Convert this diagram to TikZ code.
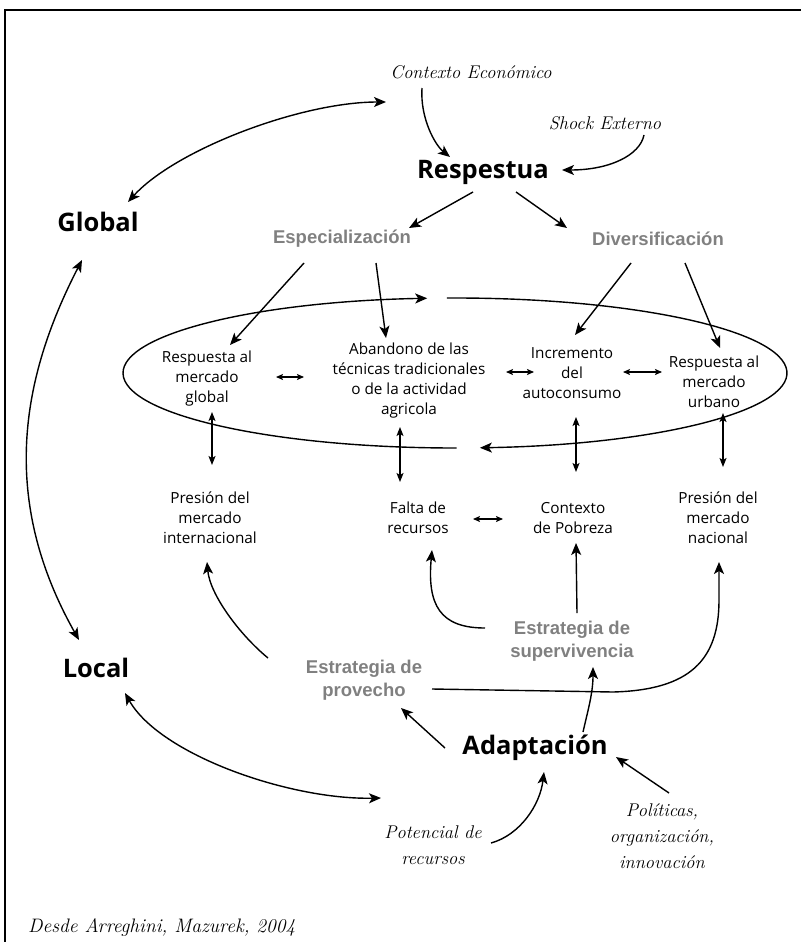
\documentclass[tikz,border=0pt]{standalone}
\usepackage{fontspec}
\usepackage{xcolor}
\usetikzlibrary{arrows.meta,calc}
\newfontfamily\comic{Open Sans}
\newfontfamily\narrow{Liberation Sans}
\definecolor{labgray}{RGB}{128,128,128}

\begin{document}
\begin{tikzpicture}[x = 1pt, y = -1pt,
  body/.style = {align = center, inner sep = 0pt, font = \comic\fontsize{15.3}{20}\selectfont},
  head/.style = {inner sep = 0pt, font = \comic\bfseries\fontsize{25.5}{28}\selectfont},
  strat/.style = {align = center, inner sep = 0pt, text = labgray, font = \narrow\bfseries\fontsize{18.5}{22.5}\selectfont},
  ctxt/.style = {align = center, inner sep = 0pt, font = \itshape\fontsize{18.4}{26}\selectfont},
  arr/.style = {-{Stealth[length = 12pt, width = 10pt, inset = 3pt]}, line width = 1.4pt},
  dbl/.style = {{Stealth[length = 12pt, width = 10pt, inset = 3pt]}-{Stealth[length = 12pt, width = 10pt, inset = 3pt]}, line width = 1.4pt},
  mid/.style = {{Stealth[length = 9pt, width = 7pt, inset = 2pt]}-{Stealth[length = 9pt, width = 7pt, inset = 2pt]}, line width = 1.1pt},
  sml/.style = {{Stealth[length = 7pt, width = 6pt, inset = 1.5pt]}-{Stealth[length = 7pt, width = 6pt, inset = 1.5pt]}, line width = 1.1pt}]
\useasboundingbox (0,0) rectangle (801,942);
\draw[line width = 2.5pt] (5,942) -- (5,10) -- (801,10);
\node[ctxt] (ctx) at (471,72) {Contexto Económico};
\node[ctxt] (shock) at (605,123) {Shock Externo};
\node[head] (resp) at (483,172) {Respestua};
\node[head] (glob) at (98,222) {Global};
\node[strat] (esp) at (342,239) {Especialización};
\node[strat] (div) at (658,239) {Diversificación};
\node[body] (rmg) at (207,379) {Respuesta al\\mercado\\global};
\node[body] (aban) at (409,381) {Abandono de las\\técnicas tradicionales\\o de la actividad\\agricola};
\node[body] (incr) at (572,373) {Incremento\\del\\autoconsumo};
\node[body] (rmu) at (714,382) {Respuesta al\\mercado\\urbano};
\node[body] (pmi) at (210,518) {Presión del\\mercado\\internacional};
\node[body] (falta) at (418,518) {Falta de\\recursos};
\node[body] (ctxp) at (573,518) {Contexto\\de Pobreza};
\node[body] (pmn) at (718,518) {Presión del\\mercado\\nacional};
\node[strat] (esup) at (572,641) {Estrategia de\\supervivencia};
\node[strat] (eprov) at (364,680) {Estrategia de\\provecho};
\node[head] (local) at (96,668) {Local};
\node[head] (adapt) at (535,748) {Adaptación};
\node[ctxt] (pot) at (433,845) {Potencial de\\recursos};
\node[ctxt] (pol) at (662,836) {Políticas,\\organización,\\innovación};
\node[anchor = west, inner sep = 0pt, font = \itshape\fontsize{19.5}{22}\selectfont] (src) at (28,928) {Desde Arreghini, Mazurek, 2004};
\coordinate (ell) at (455,373);
\draw[arr] ($(ell)+(89.7:332 and 75)$) arc[start angle = 89.7, end angle = 265.2, x radius = 332, y radius = 75];
\draw[arr] ($(ell)+(268.6:332 and 75)$) arc[start angle = 268.6, end angle = 445.7, x radius = 332, y radius = 75];
\draw[arr] ($(ctx)+(-49,16)$) .. controls +(-2,30) and +(-15,-12) .. ($(resp)+(-33,-15)$);
\draw[arr] ($(shock)+(39,12)$) .. controls +(-4,20) and +(48,0) .. ($(resp)+(79,-2)$);
\draw[dbl] ($(glob)+(30,-20)$) .. controls +(47,-52) and +(-86,0) .. ($(ctx)+(-85,30)$);
\draw[arr] ($(resp)+(-10,20)$) -- ($(esp)+(67,-11)$);
\draw[arr] ($(resp)+(33,20)$) -- ($(div)+(-91,-11)$);
\draw[arr] ($(esp)+(-38,24)$) -- ($(rmg)+(23,-34)$);
\draw[arr] ($(esp)+(34,24)$) -- ($(aban)+(-23,-43)$);
\draw[arr] ($(div)+(-27,24)$) -- ($(incr)+(3,-38)$);
\draw[arr] ($(div)+(27,24)$) -- ($(rmu)+(6,-34)$);
\draw[sml] ($(rmg)+(69,-2)$) -- ($(aban)+(-105,-4)$);
\draw[sml] ($(aban)+(97,-9)$) -- ($(incr)+(-38,-1)$);
\draw[sml] ($(incr)+(51,-1)$) -- ($(rmu)+(-52,-10)$);
\draw[mid] ($(rmg)+(5,33)$) -- ($(pmi)+(2,-53)$);
\draw[mid] ($(aban)+(-9,46)$) -- ($(falta)+(-18,-36)$);
\draw[mid] ($(incr)+(4,44)$) -- ($(ctxp)+(3,-46)$);
\draw[mid] ($(rmu)+(9,31)$) -- ($(pmn)+(5,-51)$);
\draw[sml] ($(falta)+(55,1)$) -- ($(ctxp)+(-70,1)$);
\draw[arr] ($(eprov)+(-96,-22)$) .. controls +(-28,-23) and +(3,33) .. ($(pmi)+(-3,44)$);
\draw[arr] ($(esup)+(-87,-13)$) .. controls +(-45,0) and +(-5,55) .. ($(falta)+(14,32)$);
\draw[arr] ($(esup)+(5,-28)$) -- ($(ctxp)+(3,25)$);
\draw[arr] ($(eprov)+(68,9)$) -- ++(181,3) .. controls +(77,-2) and +(0,60) .. ($(pmn)+(1,82)$) -- ($(pmn)+(1,44)$);
\draw[arr] ($(adapt)+(48,-16)$) .. controls +(5,-22) and +(0,26) .. ($(esup)+(21,26)$);
\draw[arr] ($(adapt)+(-90,0)$) -- ($(eprov)+(37,28)$);
\draw[dbl] ($(local)+(29,25)$) .. controls +(35,62) and +(-91,2) .. ($(pot)+(-52,-47)$);
\draw[arr] ($(pot)+(58,-2)$) .. controls +(29,-8) and +(-4,33) .. ($(adapt)+(9,24)$);
\draw[arr] ($(pol)+(7,-43)$) -- ($(adapt)+(81,9)$);
\draw[dbl] ($(glob)+(-16,38)$) .. controls +(-62,120) and +(-79,-140) .. ($(local)+(-17,-28)$);
\end{tikzpicture}
\end{document}
